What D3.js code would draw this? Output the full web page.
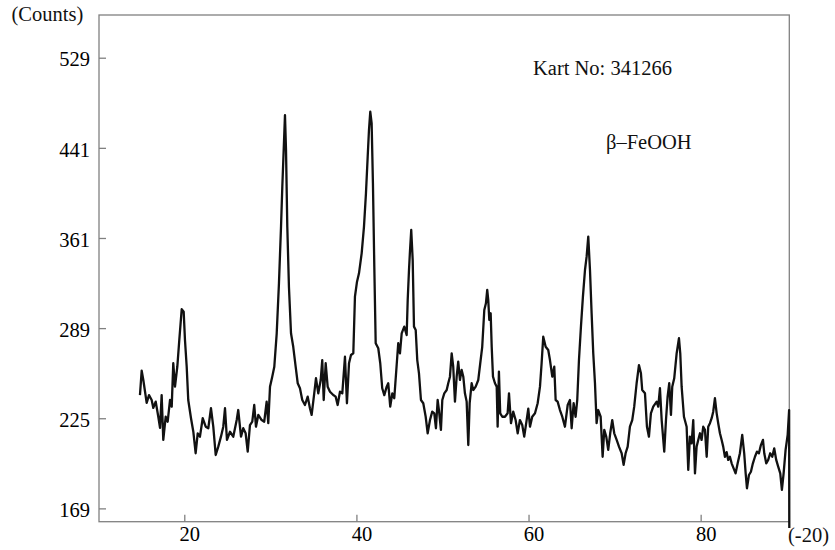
<!DOCTYPE html>
<html>
<head>
<meta charset="utf-8">
<script src="https://cdn.jsdelivr.net/npm/d3@7"></script>
<style>
  body { margin: 0; background: #fff; }
</style>
</head>
<body>
<div class="chart"></div>
<script>
// 2-theta positions
const twoTheta = [
  14.85, 15.05, 15.24, 15.63, 15.90, 16.21, 16.40, 16.68, 16.98, 17.18,
  17.37, 17.56, 17.84, 18.07, 18.34, 18.54, 18.72, 18.92, 19.19, 19.42,
  19.70, 19.93, 20.08, 20.28, 20.46, 20.78, 21.05, 21.32, 21.56, 21.82,
  22.14, 22.49, 22.79, 23.10, 23.37, 23.65, 23.95, 24.26, 24.53, 24.73,
  24.96, 25.31, 25.69, 26.09, 26.27, 26.59, 26.85, 27.13, 27.37, 27.63,
  27.90, 28.13, 28.33, 28.60, 28.99, 29.29, 29.57, 29.76, 29.96, 30.22,
  30.46, 30.74, 31.00, 31.24, 31.39, 31.55, 31.70, 31.82, 31.97, 32.16,
  32.40, 32.66, 32.94, 33.18, 33.44, 33.71, 34.02, 34.34, 34.60, 34.80,
  35.10, 35.30, 35.57, 35.85, 36.03, 36.20, 36.43, 36.66, 36.93, 37.31,
  37.59, 37.82, 38.09, 38.36, 38.67, 38.90, 39.14, 39.37, 39.64, 39.83,
  40.07, 40.30, 40.61, 40.88, 41.11, 41.31, 41.46, 41.61, 41.77, 41.92,
  42.08, 42.24, 42.54, 42.77, 43.00, 43.24, 43.52, 43.70, 43.93, 44.17,
  44.40, 44.68, 44.86, 45.06, 45.26, 45.56, 45.84, 45.96, 46.11, 46.22,
  46.37, 46.54, 46.69, 46.89, 47.07, 47.27, 47.50, 47.77, 48.05, 48.28,
  48.55, 48.81, 49.05, 49.24, 49.44, 49.59, 49.82, 49.98, 50.21, 50.49,
  50.67, 50.87, 51.07, 51.25, 51.45, 51.65, 51.83, 52.03, 52.23, 52.42,
  52.61, 52.81, 53.00, 53.16, 53.39, 53.58, 53.86, 54.16, 54.39, 54.62,
  54.86, 55.05, 55.20, 55.32, 55.44, 55.60, 55.72, 55.87, 56.10, 56.30,
  56.41, 56.56, 56.71, 56.95, 57.26, 57.57, 57.73, 57.96, 58.22, 58.50,
  58.74, 59.00, 59.27, 59.50, 59.78, 59.97, 60.17, 60.43, 60.75, 61.06,
  61.33, 61.52, 61.71, 61.99, 62.29, 62.49, 62.76, 62.99, 63.15, 63.38,
  63.65, 63.92, 64.23, 64.55, 64.81, 65.01, 65.24, 65.47, 65.66, 65.86,
  66.09, 66.32, 66.56, 66.75, 66.94, 67.14, 67.33, 67.52, 67.72, 67.91,
  68.10, 68.38, 68.61, 68.80, 69.03, 69.26, 69.49, 69.73, 69.96, 70.24,
  70.51, 70.82, 71.05, 71.28, 71.52, 71.78, 72.05, 72.28, 72.56, 72.83,
  73.06, 73.21, 73.53, 73.76, 73.99, 74.22, 74.49, 74.89, 75.07, 75.27,
  75.47, 75.77, 75.97, 76.16, 76.35, 76.55, 76.70, 76.93, 77.21, 77.48,
  77.63, 77.79, 78.06, 78.37, 78.56, 78.75, 78.95, 79.14, 79.34, 79.53,
  79.72, 79.92, 80.11, 80.30, 80.50, 80.70, 80.88, 81.08, 81.28, 81.46,
  81.66, 81.86, 82.04, 82.24, 82.44, 82.62, 82.82, 83.02, 83.20, 83.40,
  83.60, 83.83, 84.06, 84.30, 84.56, 84.83, 85.06, 85.23, 85.38, 85.61,
  85.84, 86.07, 86.31, 86.54, 86.77, 87.00, 87.24, 87.39, 87.62, 87.85,
  88.08, 88.32, 88.55, 88.78, 89.01, 89.25, 89.44, 89.64, 89.87, 90.11,
  90.28, 90.30
];

// intensity (counts) at each position
const counts = [
  240.7, 257.8, 251.2, 235.3, 240.7, 237.3, 231.9, 236.2, 226.0, 218.6,
  240.7, 210.8, 226.0, 222.7, 237.3, 232.8, 263.1, 246.5, 260.6, 280.1,
  303.4, 301.5, 280.1, 260.6, 237.3, 225.0, 216.1, 202.3, 215.1, 212.9,
  225.0, 219.4, 218.4, 231.7, 219.4, 201.2, 206.5, 212.9, 219.4, 231.7,
  210.8, 216.1, 212.9, 223.8, 230.5, 212.9, 218.4, 215.1, 203.3, 220.5,
  222.7, 233.9, 219.4, 227.2, 223.8, 222.7, 236.2, 221.7, 246.5, 253.5,
  260.6, 285.1, 323.8, 370.6, 405.5, 439.0, 472.1, 439.0, 370.6, 321.1,
  285.1, 275.1, 260.6, 248.9, 245.4, 237.3, 233.9, 239.6, 231.7, 227.2,
  241.9, 252.4, 241.9, 251.2, 265.4, 237.3, 263.1, 246.5, 243.0, 240.7,
  239.6, 233.9, 243.0, 241.9, 267.8, 235.1, 263.1, 269.1, 270.3, 313.2,
  325.1, 331.8, 348.2, 370.6, 399.7, 432.8, 457.8, 475.3, 464.2, 408.6,
  337.2, 277.7, 274.0, 263.1, 245.4, 240.7, 246.5, 248.9, 232.8, 241.9,
  238.5, 262.0, 277.7, 270.3, 285.1, 290.1, 283.8, 310.6, 334.5, 349.5,
  367.8, 342.7, 290.1, 287.6, 265.4, 255.9, 237.3, 235.1, 226.0, 215.1,
  223.8, 229.4, 228.3, 218.4, 237.3, 230.5, 217.3, 237.3, 241.9, 244.2,
  248.9, 253.5, 270.3, 260.6, 236.2, 253.5, 264.2, 251.2, 258.3, 253.5,
  241.9, 236.2, 207.5, 235.1, 248.9, 244.2, 246.5, 251.2, 263.1, 275.1,
  302.8, 308.0, 318.5, 310.6, 295.2, 300.3, 275.1, 253.5, 248.9, 246.5,
  219.4, 257.1, 228.3, 226.0, 226.0, 228.3, 241.9, 221.7, 229.4, 223.8,
  215.1, 223.8, 220.5, 212.9, 223.8, 231.5, 219.4, 226.0, 228.3, 235.1,
  246.5, 263.1, 282.6, 275.1, 272.7, 265.4, 253.5, 260.6, 237.3, 236.2,
  230.5, 226.0, 219.4, 233.9, 237.3, 218.4, 235.1, 226.0, 237.3, 265.4,
  290.1, 313.2, 334.5, 345.4, 362.1, 334.5, 300.3, 270.3, 248.9, 221.7,
  230.5, 226.0, 200.1, 217.3, 212.9, 204.4, 215.1, 223.8, 215.1, 210.8,
  206.5, 202.3, 195.0, 202.3, 206.5, 219.4, 223.8, 232.8, 248.9, 261.8,
  255.9, 244.2, 241.9, 219.4, 212.9, 228.3, 232.8, 236.2, 232.8, 245.4,
  223.8, 203.3, 223.8, 239.6, 248.9, 227.2, 246.5, 252.4, 270.3, 281.4,
  270.3, 246.5, 226.0, 219.4, 191.9, 212.9, 208.6, 223.8, 189.8, 206.5,
  210.8, 215.1, 210.8, 219.4, 217.3, 200.1, 219.4, 221.7, 225.0, 229.4,
  238.5, 228.3, 221.7, 215.1, 210.8, 206.5, 200.1, 203.0, 198.1, 200.1,
  196.0, 192.9, 189.8, 196.0, 202.3, 214.0, 202.3, 189.8, 180.8, 188.8,
  190.8, 196.0, 200.1, 203.3, 202.3, 207.5, 210.8, 202.3, 196.0, 198.1,
  202.3, 200.1, 205.4, 198.1, 193.9, 189.8, 179.8, 189.8, 204.4, 214.0,
  230.5, 157.9
];

const xTicks = [20, 40, 60, 80];
const yTicks = [169, 225, 289, 361, 441, 529];

const yTitle = "(Counts)";
const xTitle = "(-20)";
const cardLabel = "Kart No: 341266";
const phaseLabel = "β–FeOOH";

const width = 835;
const height = 550;
const plotLeft = 99, plotRight = 789.3, plotTop = 15, plotBottom = 521.7;
const frameColor = "#808080";
const font = "'Liberation Serif', 'Times New Roman', serif";
const fontSize = "20.5px";

const svg = d3.select(".chart")
  .append("svg")
  .attr("width", width)
  .attr("height", height);

// x is linear in 2-theta
const xScale = d3.scaleLinear()
  .domain([10.09, 90.3])
  .range([plotLeft, plotRight]);

// counts axis is a square-root scale (ticks are 13^2, 15^2, ... 23^2)
const yScale = d3.scaleSqrt()
  .domain([161.4, 573.5])
  .range([plotBottom, plotTop]);

// frame box
svg.append("rect")
  .attr("x", plotLeft)
  .attr("y", plotTop)
  .attr("width", plotRight - plotLeft)
  .attr("height", plotBottom - plotTop)
  .attr("fill", "none")
  .attr("stroke", frameColor)
  .attr("stroke-width", 1.3);

// x axis, ticks point inward
const xAxis = svg.append("g")
  .attr("transform", `translate(0, ${plotBottom})`)
  .call(d3.axisBottom(xScale)
    .tickValues(xTicks)
    .tickSizeInner(-7)
    .tickSizeOuter(0)
    .tickPadding(5));
xAxis.select(".domain").remove();
xAxis.selectAll("line").attr("stroke", frameColor).attr("stroke-width", 1.3);
xAxis.selectAll("text")
  .attr("dx", 5)
  .attr("fill", "#000")
  .style("font-family", font)
  .style("font-size", fontSize);

// y axis, ticks point inward
const yAxis = svg.append("g")
  .attr("transform", `translate(${plotLeft}, 0)`)
  .call(d3.axisLeft(yScale)
    .tickValues(yTicks)
    .tickSizeInner(-7)
    .tickSizeOuter(0)
    .tickPadding(9));
yAxis.select(".domain").remove();
yAxis.selectAll("line").attr("stroke", frameColor).attr("stroke-width", 1.3);
yAxis.selectAll("text")
  .attr("dy", "0.4em")
  .attr("fill", "#000")
  .style("font-family", font)
  .style("font-size", fontSize);

// diffraction trace
const line = d3.line()
  .x((d, i) => xScale(twoTheta[i]))
  .y(d => yScale(d));

svg.append("path")
  .datum(counts)
  .attr("d", line)
  .attr("fill", "none")
  .attr("stroke", "#111")
  .attr("stroke-width", 2.3)
  .attr("stroke-linejoin", "round");

// titles and annotations
const addText = (txt, x, y) => svg.append("text")
  .text(txt)
  .attr("x", x)
  .attr("y", y)
  .style("font-family", font)
  .style("font-size", fontSize)
  .attr("fill", "#111");

addText(yTitle, 11.5, 21);
addText(xTitle, 788, 541.5);
addText(cardLabel, 533, 75);
addText(phaseLabel, 606, 149);
</script>
</body>
</html>
